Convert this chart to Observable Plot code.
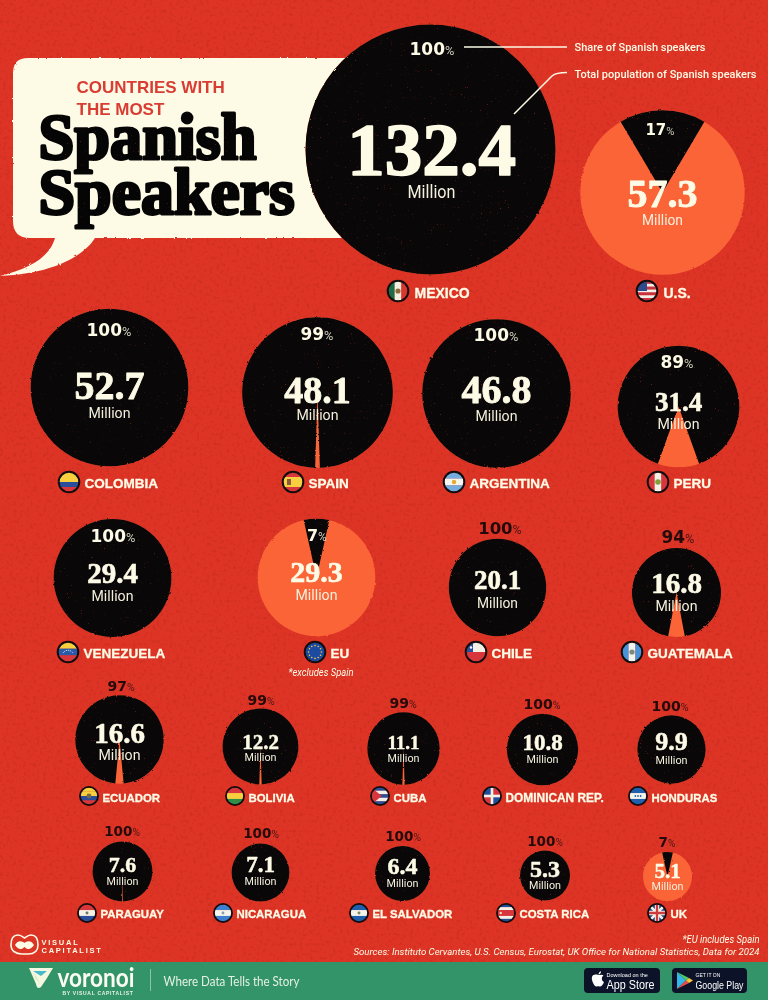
<!DOCTYPE html>
<html><head><meta charset="utf-8">
<script src="https://cdn.jsdelivr.net/npm/d3@7"></script>
<script src="https://cdn.jsdelivr.net/npm/@observablehq/plot@0.6"></script>
<style>
html,body{margin:0;padding:0;background:#dd3425;width:768px;height:1000px;overflow:hidden}
svg.main{display:block}
.rough{filter:url(#rough)}
.vc{letter-spacing:1.75px}
.by{letter-spacing:.7px}
</style></head><body>
<svg width="0" height="0" style="position:absolute"><defs>
<clipPath id="flagclip"><circle r="10"/></clipPath>
<filter id="rough" x="-5%" y="-5%" width="110%" height="110%" color-interpolation-filters="sRGB"><feTurbulence type="fractalNoise" baseFrequency="0.35" numOctaves="2" seed="4" result="n"/><feDisplacementMap in="SourceGraphic" in2="n" scale="2.2"/></filter>
<filter id="specks" x="0" y="0" width="100%" height="100%" color-interpolation-filters="sRGB"><feTurbulence type="fractalNoise" baseFrequency="0.7" numOctaves="2" seed="9"/><feColorMatrix values="0 0 0 0 .62  0 0 0 0 .16  0 0 0 0 .10  7 0 0 0 -5.1"/></filter>
<filter id="mottle" x="0" y="0" width="100%" height="100%" color-interpolation-filters="sRGB"><feTurbulence type="fractalNoise" baseFrequency="0.3" numOctaves="4" seed="3"/><feColorMatrix values="0 0 0 0 .55  0 0 0 0 .1  0 0 0 0 .05  4 0 0 0 -2.1"/></filter>
</defs></svg>
<script>
// ---------- chart values ----------
const countries = ["Mexico","U.S.","Colombia","Spain","Argentina","Peru","Venezuela","EU","Chile","Guatemala","Ecuador","Bolivia","Cuba","Dominican Rep.","Honduras","Paraguay","Nicaragua","El Salvador","Costa Rica","UK"];
const speakers = [132.4,57.3,52.7,48.1,46.8,31.4,29.4,29.3,20.1,16.8,16.6,12.2,11.1,10.8,9.9,7.6,7.1,6.4,5.3,5.1];
const shares = [100,17,100,99,100,89,100,7,100,94,97,99,99,100,100,99.6,100,100,100,7];

// ---------- placement on the poster (separate from the values) ----------
const centreX = [430,662,109,317,496,678,112,316,497,676,119,260,403,542,671,122,260,402,544.5,667];
const centreY = [149,192,387,392,393,406,577.5,577,587,592,739,746,748,749,749,871,872,873,875,876];
const shareX  = [432,660,109,317,496,677,113,317,500,678,121,261,403,542,670,122,261,403,545,667];
const shareY  = [54,134,335,339,340,367,541,540,533,542,690,704,707,708,710,835,837,840,845,846];
const shareSize = [17,15,17,17,17,17,17,16,16.5,17,14,14,14,14,14,13.5,13.5,13.5,13.5,13.5];
const shareDark = [0,0,0,0,0,0,0,0,1,1,1,1,1,1,1,1,1,1,1,1];
const valueY  = [174,206,398,402,402,410,582,581,588,592,742,748,748,749,749,871,871,873,876,877];
const valueSize = [75,40,40,38,40,27,29,30,27,29,29,21,19,23,26,22,23,24,24,21];
const millionY = [197,224,417,419,420,428,600,599,607,610,759,760,761,762,763,884,884,886,888,889];
const millionSize = [18.5,15,15,15,15,15,15,15,15,15,14,11.5,11.5,11.5,11.5,11.5,11.5,11.5,11.5,11.5];
const millionWidth = [48,41,42,42,42,42,42,42,41,42,42,32,32,32,32,32,32,32,32,32];
const flagX = [398,647,69,293,454,658,68,315,476,632,89,235,380,492,638,87,223,359,506,657];
const flagY = [291,291,482,482,482,482,652,652,652,652,796,796,796,796,796,913,913,913,913,913];
const flagScale = [1,1,1,1,1,1,1,1,1,1,.88,.88,.88,.88,.88,.88,.88,.88,.88,.88];
const labelSize = [14,14,13.5,13.5,13.5,13.5,13.5,13.5,13.5,13.5,11.4,11.4,11.4,11.9,11.4,11.4,11.4,11.4,11.4,11.4];
const labelGap = [16,16,15,15,15,15,15,15,15,15,13,13,13,13,13,13,13,13,13,13];
const labelDrop = [6,6,5.5,5.5,5.5,5.5,5.5,5.5,5.5,5.5,5,5,5,5,5,4.8,4.8,4.8,4.8,4.8];

const rows = countries.map((name,i)=>({name,value:speakers[i],share:shares[i],i,
  label:name.toUpperCase(),
  pct:String(Math.round(shares[i])),
  split:shareX[i]+(String(Math.round(shares[i])).length*.696*shareSize[i]-.62*shareSize[i])/2}));

// ---------- colours and fonts ----------
const red="#dd3425", orange="#fb6437", ink="#090707", cream="#fdfbe6", dark="#240a0a", green="#349469";
const serif="Liberation Serif", narrow="Roboto", sans="Liberation Sans", wide="DejaVu Sans";

// black slice of the pie, centred on twelve o'clock
const slice = share => ({draw(ctx,size){
  const r=Math.sqrt(size/Math.PI);
  if(share>=100){ctx.moveTo(r,0);ctx.arc(0,0,r,0,2*Math.PI);ctx.closePath();return;}
  const half=share/100*Math.PI;
  ctx.moveTo(0,0);ctx.arc(0,0,r,-Math.PI/2-half,-Math.PI/2+half);ctx.closePath();
}});

// ---------- flags ----------
const hs=(...c)=>({dir:"h",c}), vs=(...c)=>({dir:"v",c});
const flags={
 "Mexico":{...vs("#1f6b45","#f2efe2","#d8362f"),x:'<circle r="2.6" fill="#8a6a3a"/>'},
 "U.S.":{...hs("#c8323c","#f3efe8","#c8323c","#f3efe8","#c8323c","#f3efe8","#c8323c"),x:'<rect x="-10" y="-10" width="10" height="10" fill="#2f4a8c"/>'},
 "Colombia":hs("#f8cf3f","#f8cf3f","#2a4e9c","#d8363c"),
 "Spain":{...hs("#d8363c","#f8cf3f","#f8cf3f","#d8363c"),x:'<rect x="-6" y="-3" width="4" height="6" fill="#8a5a3a"/>'},
 "Argentina":{...hs("#74acdf","#f6f6f0","#74acdf"),x:'<circle r="2.2" fill="#e8a92f"/>'},
 "Peru":{...vs("#d8363c","#f4f0e6","#d8363c"),x:'<circle r="2.8" fill="#7da03a"/>'},
 "Venezuela":{...hs("#f8cf3f","#2a5aa8","#d8363c"),x:'<path d="M-5 1A6 6 0 0 1 5 1" fill="none" stroke="#fff" stroke-width="1" stroke-dasharray="1 1"/>'},
 "EU":{...hs("#1c4aa0"),x:d3.range(12).map(k=>`<circle cx="${(6.4*Math.cos(k*Math.PI/6)).toFixed(2)}" cy="${(6.4*Math.sin(k*Math.PI/6)).toFixed(2)}" r=".8" fill="#f8cf3f"/>`).join("")},
 "Chile":{...hs("#f4f0e6","#d8363c"),x:'<rect x="-10" y="-10" width="7" height="10" fill="#2a4e9c"/><circle cx="-5" cy="-4.5" r="1.2" fill="#fff"/>'},
 "Guatemala":{...vs("#4b93d8","#f4f4ec","#4b93d8"),x:'<circle r="2.6" fill="#7c8a78"/>'},
 "Ecuador":{...hs("#f8cf3f","#f8cf3f","#2a4e9c","#d8363c"),x:'<circle r="2.8" fill="#7a6a42"/>'},
 "Bolivia":hs("#d8363c","#f8cf3f","#2f8f46"),
 "Cuba":{...hs("#2a4e9c","#f4f0e6","#2a4e9c","#f4f0e6","#2a4e9c"),x:'<path d="M-10 -10L2 0L-10 10Z" fill="#d8363c"/>'},
 "Dominican Rep.":{...hs("#f4f0e6"),x:'<rect x="-10" y="-10" width="8.5" height="8.5" fill="#1f4e9c"/><rect x="1.5" y="-10" width="8.5" height="8.5" fill="#d8363c"/><rect x="-10" y="1.5" width="8.5" height="8.5" fill="#d8363c"/><rect x="1.5" y="1.5" width="8.5" height="8.5" fill="#1f4e9c"/>'},
 "Honduras":{...hs("#1f5fae","#f4f4ec","#1f5fae"),x:'<circle cx="-3" r="1" fill="#1f5fae"/><circle r="1" fill="#1f5fae"/><circle cx="3" r="1" fill="#1f5fae"/>'},
 "Paraguay":{...hs("#d8363c","#f4f0e6","#2a4e9c"),x:'<circle r="1.7" fill="#6a7a60"/>'},
 "Nicaragua":{...hs("#3f7fd0","#f4f4ec","#3f7fd0"),x:'<circle r="1.6" fill="#8aa0a8"/>'},
 "El Salvador":{...hs("#1f5fae","#f4f4ec","#1f5fae"),x:'<circle r="1.7" fill="#7a8a5a"/>'},
 "Costa Rica":{...hs("#1f4e9c","#f4f0e6","#d8363c","#d8363c","#f4f0e6","#1f4e9c"),x:'<circle cx="-6" r="1.4" fill="#e6dcc0"/>'},
 "UK":{...hs("#2a4488"),x:'<path d="M-10 -10L10 10M10 -10L-10 10" stroke="#f4f0e6" stroke-width="3"/><path d="M0 -10V10M-10 0H10" stroke="#f4f0e6" stroke-width="5"/><path d="M0 -10V10M-10 0H10" stroke="#cf3a3f" stroke-width="2.6"/>'}
};
const flagMark=(index,{x,y})=>{
  const g=d3.create("svg:g");
  rows.forEach(d=>{
    const f=flags[d.name], a=g.append("g").attr("transform",`translate(${x(flagX[d.i])},${y(flagY[d.i])}) scale(${flagScale[d.i]})`);
    const c=a.append("g").attr("clip-path","url(#flagclip)");
    const n=f.c.length, s=20/n;
    f.c.forEach((col,k)=>{
      c.append("rect").attr("x",f.dir==="v"?-10+k*s:-10).attr("y",f.dir==="h"?-10+k*s:-10)
       .attr("width",f.dir==="v"?s+.1:20).attr("height",f.dir==="h"?s+.1:20).attr("fill",col);
    });
    if(f.x) c.append("g").html(f.x);
    a.append("circle").attr("r",10.3).attr("fill","none").attr("stroke","#120c0c").attr("stroke-width",2);
  });
  return g.node();
};

// ---------- poster furniture ----------
const bubble=()=>{const g=d3.create("svg:g").attr("class","rough");
  g.append("path").attr("fill",cream).attr("d","M28 58H345V238H95C84 256 52 274 0 276C32 268 50 256 55 238H30Q13 238 13 221V73Q13 58 28 58Z");
  return g.node();};
const leaders=()=>{const g=d3.create("svg:g").attr("fill","none").attr("stroke",cream).attr("stroke-width",1.5);
  g.append("path").attr("d","M464 47H567");
  g.append("path").attr("d","M514 114L552 76Q556 72.5 567 72.5");
  return g.node();};
const paperGrain=()=>{const g=d3.create("svg:g");
  g.append("rect").attr("width",768).attr("height",962).attr("filter","url(#mottle)").attr("opacity",.12).style("mix-blend-mode","multiply");
  return g.node();};
const inkSpecks=()=>{const g=d3.create("svg:g");
  g.append("rect").attr("width",768).attr("height",962).attr("filter","url(#specks)").attr("opacity",.7).style("mix-blend-mode","lighten");
  return g.node();};
const footer=()=>{const g=d3.create("svg:g");
  g.append("rect").attr("y",962).attr("width",768).attr("height",38).attr("fill",green);
  g.append("path").attr("d","M150.500 969V991").attr("stroke","#8cc4aa");
  g.append("path").attr("d","M29 968H53L47 978L41 987Q37 990 36 984Z").attr("fill","#f4f8e0");
  g.append("path").attr("d","M33 971L47 971L41 976Z").attr("fill","#49b9c9");
  g.append("path").attr("d","M33 972L40 984L36 978Z").attr("fill","#8ccf6a");
  g.append("rect").attr("x",584).attr("y",968).attr("width",76).attr("height",25).attr("rx",4).attr("fill","#0c1328");
  g.append("rect").attr("x",672).attr("y",968).attr("width",75).attr("height",25).attr("rx",4).attr("fill","#0c1328");
  g.append("path").attr("d","M594 975C596 974 598 975 599 975C600 975 602 974 603.500 975.500C601 977 601.500 981 604 982C603 985 601 987 599.500 986.500C598.500 986 597.500 986 596.500 986.500C594.500 987 591 980 592 977C592.500 975.500 593 975 594 975ZM598.500 974.500C598.500 972.500 600 971.500 601 971.300C601.200 973 599.800 974.500 598.500 974.500Z").attr("fill","#fff");
  g.append("path").attr("d","M677 972V989L686 980.500Z").attr("fill","#35b6e8");
  g.append("path").attr("d","M677 972L689 978L686 980.500Z").attr("fill","#4fc868");
  g.append("path").attr("d","M677 989L689 983L686 980.500Z").attr("fill","#ea4a4a");
  g.append("path").attr("d","M689 978L693 980.500L689 983L686 980.500Z").attr("fill","#f8c83a");
  return g.node();};
const vcLogo=()=>{const g=d3.create("svg:g").attr("stroke",cream).attr("fill","none").attr("stroke-width",1.6);
  g.append("path").attr("d","M18 935C12 935 11 941 11 945C11 951 16 954 22 954H28C34 954 38 951 38 945C38 941 37 935 31 935C28 935 26 937 24.500 938C23 937 21 935 18 935Z");
  g.append("path").attr("d","M15 945C18 940 22 941 24.500 943C27 941 31 940 34 945C31 950 27 950 24.500 947C22 950 18 950 15 945Z").attr("fill",cream).attr("stroke","none");
  return g.node();};

const note=(text,x,y,o={})=>Plot.text([{x,y,text}],{x:"x",y:"y",text:"text",textAnchor:"start",lineAnchor:"bottom",fill:cream,fontFamily:narrow,...o});

// target drawn widths of the condensed lettering
const fitted={
  "Spanish":218,"Speakers":256,
  "Share of Spanish speakers":131,"Total population of Spanish speakers":182,
  "*excludes Spain":65,"*EU includes Spain":77,
  "Sources: Instituto Cervantes, U.S. Census, Eurostat, UK Office for National Statistics, Data for 2024":406,
  "voronoi":77,"Where Data Tells the Story":136,"App Store":48,"Google Play":48
};

const main=Plot.plot({
  width:768,height:1000,margin:0,className:"main",
  style:{background:red,overflow:"hidden"},
  x:{type:"linear",domain:[0,768],range:[0,768],axis:null},
  y:{type:"linear",domain:[0,1000],range:[0,1000],axis:null},
  r:{type:"sqrt",domain:[0,132.4],range:[0,125]},
  marks:[
    paperGrain,
    bubble,
    Plot.dot(rows,{x:d=>centreX[d.i],y:d=>centreY[d.i],r:"value",fill:orange,className:"rough"}),
    ...rows.map(d=>Plot.dot([d],{x:d=>centreX[d.i],y:d=>centreY[d.i],r:"value",fill:ink,symbol:slice(d.share),className:"rough"})),
    leaders,
    note("COUNTRIES WITH",76,92,{fontFamily:sans,fontWeight:700,fontSize:17,fill:"#d83c32"}),
    note("THE MOST",76,114,{fontFamily:sans,fontWeight:700,fontSize:17,fill:"#d83c32"}),
    note("Spanish",38,158,{fontFamily:serif,fontWeight:700,fontSize:64.5,fill:"#050505",stroke:"#050505",strokeWidth:3}),
    note("Speakers",38,213,{fontFamily:serif,fontWeight:700,fontSize:64.5,fill:"#050505",stroke:"#050505",strokeWidth:3}),
    note("Share of Spanish speakers",574,50,{fontSize:11.5,fontWeight:500}),
    note("Total population of Spanish speakers",574,77,{fontSize:11.5,fontWeight:500}),
    Plot.text(rows,{x:"split",y:d=>shareY[d.i],text:"pct",textAnchor:"end",lineAnchor:"bottom",fontFamily:wide,fontWeight:700,fontSize:d=>shareSize[d.i],fill:d=>shareDark[d.i]?dark:cream}),
    Plot.text(rows,{x:"split",y:d=>shareY[d.i],text:()=>"%",textAnchor:"start",lineAnchor:"bottom",fontFamily:narrow,fontSize:d=>shareSize[d.i]*.75,fill:d=>shareDark[d.i]?"#4a1414":"#cfcdbd"}),
    Plot.text(rows,{x:d=>centreX[d.i]+(d.i?0:1),y:d=>valueY[d.i],text:d=>d.value.toFixed(1),lineAnchor:"bottom",fontFamily:serif,fontWeight:700,fontSize:d=>valueSize[d.i],fill:cream,stroke:cream,strokeWidth:d=>valueSize[d.i]/45}),
    Plot.text(rows,{x:d=>centreX[d.i]+(d.i?0:1),y:d=>millionY[d.i],text:()=>"Million",lineAnchor:"bottom",fontFamily:narrow,fontSize:d=>millionSize[d.i],fill:"#f3f0dd",className:"million"}),
    flagMark,
    Plot.text(rows,{x:d=>flagX[d.i]+labelGap[d.i],y:d=>flagY[d.i]+labelDrop[d.i],text:"label",textAnchor:"start",lineAnchor:"bottom",fontFamily:sans,fontWeight:700,fontSize:d=>labelSize[d.i],fill:cream,stroke:cream,strokeWidth:.3}),
    note("*excludes Spain",288,675,{fontSize:11,fontStyle:"italic"}),
    inkSpecks,
    note("*EU includes Spain",682,942,{fontSize:10.5,fontStyle:"italic"}),
    note("Sources: Instituto Cervantes, U.S. Census, Eurostat, UK Office for National Statistics, Data for 2024",353,954,{fontSize:9.5,fontStyle:"italic"}),
    vcLogo,
    note("VISUAL",41,944,{fontFamily:sans,fontWeight:700,fontSize:7.5,className:"vc"}),
    note("CAPITALIST",41,952,{fontFamily:sans,fontWeight:700,fontSize:7.5,className:"vc"}),
    footer,
    note("voronoi",57,986,{fontFamily:"Lato",fontWeight:700,fontSize:27,fill:"#fbfdf2"}),
    note("BY VISUAL CAPITALIST",62,994,{fontFamily:sans,fontWeight:700,fontSize:5,className:"by",fill:"#e6f2e6"}),
    note("Where Data Tells the Story",163,985,{fontFamily:"Lato",fontSize:13,fill:"#e4f0e4"}),
    note("Download on the",606,976.5,{fontFamily:sans,fontSize:5.5,fill:"#fff"}),
    note("App Store",606,988,{fontFamily:sans,fontSize:12,fill:"#fff"}),
    note("GET IT ON",695,976,{fontFamily:sans,fontSize:5,fill:"#fff"}),
    note("Google Play",695,988,{fontFamily:sans,fontSize:11.5,fill:"#fff"})
  ]
});
document.body.appendChild(main);
// condense lettering to the reference's widths (no condensed face is installed)
d3.select(main).selectAll(".million text").each(function(_,j){
  this.setAttribute("textLength",millionWidth[j]);this.setAttribute("lengthAdjust","spacingAndGlyphs");});
d3.select(main).selectAll("text").each(function(){
  const w=fitted[this.textContent];
  if(w){this.setAttribute("textLength",w);this.setAttribute("lengthAdjust","spacingAndGlyphs");}});
</script></body></html>
